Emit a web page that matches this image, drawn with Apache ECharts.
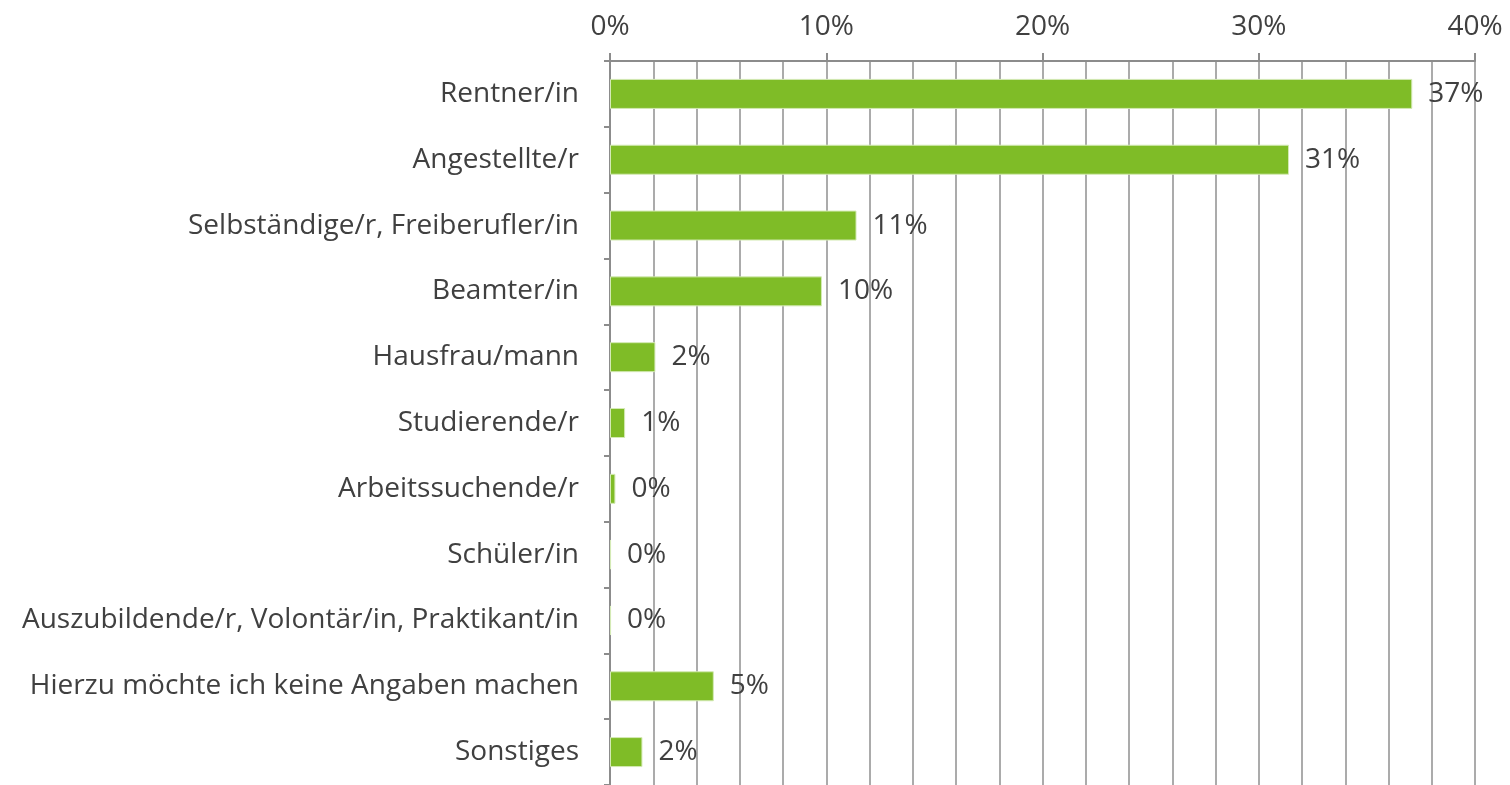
<!DOCTYPE html>
<html>
<head>
<meta charset="utf-8">
<script src="https://cdn.jsdelivr.net/npm/echarts@6/dist/echarts.min.js"></script>
<style>
  html, body { margin: 0; padding: 0; background: #fff; }
  #chart { width: 1510px; height: 785px; }
</style>
</head>
<body>
<div id="chart"></div>
<script>
// Kategorien (von oben nach unten)
const categories = [
    'Rentner/in',
    'Angestellte/r',
    'Selbständige/r, Freiberufler/in',
    'Beamter/in',
    'Hausfrau/mann',
    'Studierende/r',
    'Arbeitssuchende/r',
    'Schüler/in',
    'Auszubildende/r, Volontär/in, Praktikant/in',
    'Hierzu möchte ich keine Angaben machen',
    'Sonstiges'
];
// Anteile in Prozent, aus dem Bild geschätzt
const shares = [37.1, 31.4, 11.4, 9.8, 2.1, 0.7, 0.25, 0.05, 0.05, 4.8, 1.5];
const xTicks = [0, 10, 20, 30, 40];

const textColor = '#404040';
const gridColor = '#ababab';
const font = '"Open Sans", sans-serif';

const chart = echarts.init(document.getElementById('chart'));

chart.setOption({
    animation: false,
    grid: { left: 610, right: 35, top: 61, bottom: 0, containLabel: false },
    xAxis: {
        type: 'value',
        position: 'top',
        min: xTicks[0],
        max: xTicks[xTicks.length - 1],
        interval: 10,
        axisLine: { show: true, lineStyle: { color: '#8c8c8c', width: 2 } },
        axisTick: { show: true, inside: false, length: 8, lineStyle: { color: '#8c8c8c', width: 2 } },
        axisLabel: {
            margin: 20,
            color: textColor,
            fontFamily: font,
            fontSize: 28,
            formatter: v => v + '%'
        },
        splitLine: { show: true, lineStyle: { color: gridColor, width: 2 } },
        minorTick: { show: false, splitNumber: 5 },
        minorSplitLine: { show: true, lineStyle: { color: gridColor, width: 2 } }
    },
    yAxis: {
        type: 'category',
        inverse: true,
        data: categories,
        axisLine: { show: true, lineStyle: { color: '#8c8c8c', width: 2 } },
        axisTick: { show: true, length: 6, alignWithLabel: false, lineStyle: { color: '#8c8c8c', width: 2 } },
        axisLabel: {
            margin: 31,
            color: textColor,
            fontFamily: font,
            fontSize: 28
        },
        splitLine: { show: false }
    },
    series: [{
        type: 'bar',
        data: shares,
        barWidth: 30,
        itemStyle: {
            color: '#7fbc27',
            borderColor: '#d4eab5',
            borderWidth: 1
        },
        label: {
            show: true,
            position: 'right',
            distance: 16,
            color: textColor,
            fontFamily: font,
            fontSize: 28,
            formatter: p => Math.round(p.value) + '%'
        }
    }]
});
</script>
</body>
</html>
